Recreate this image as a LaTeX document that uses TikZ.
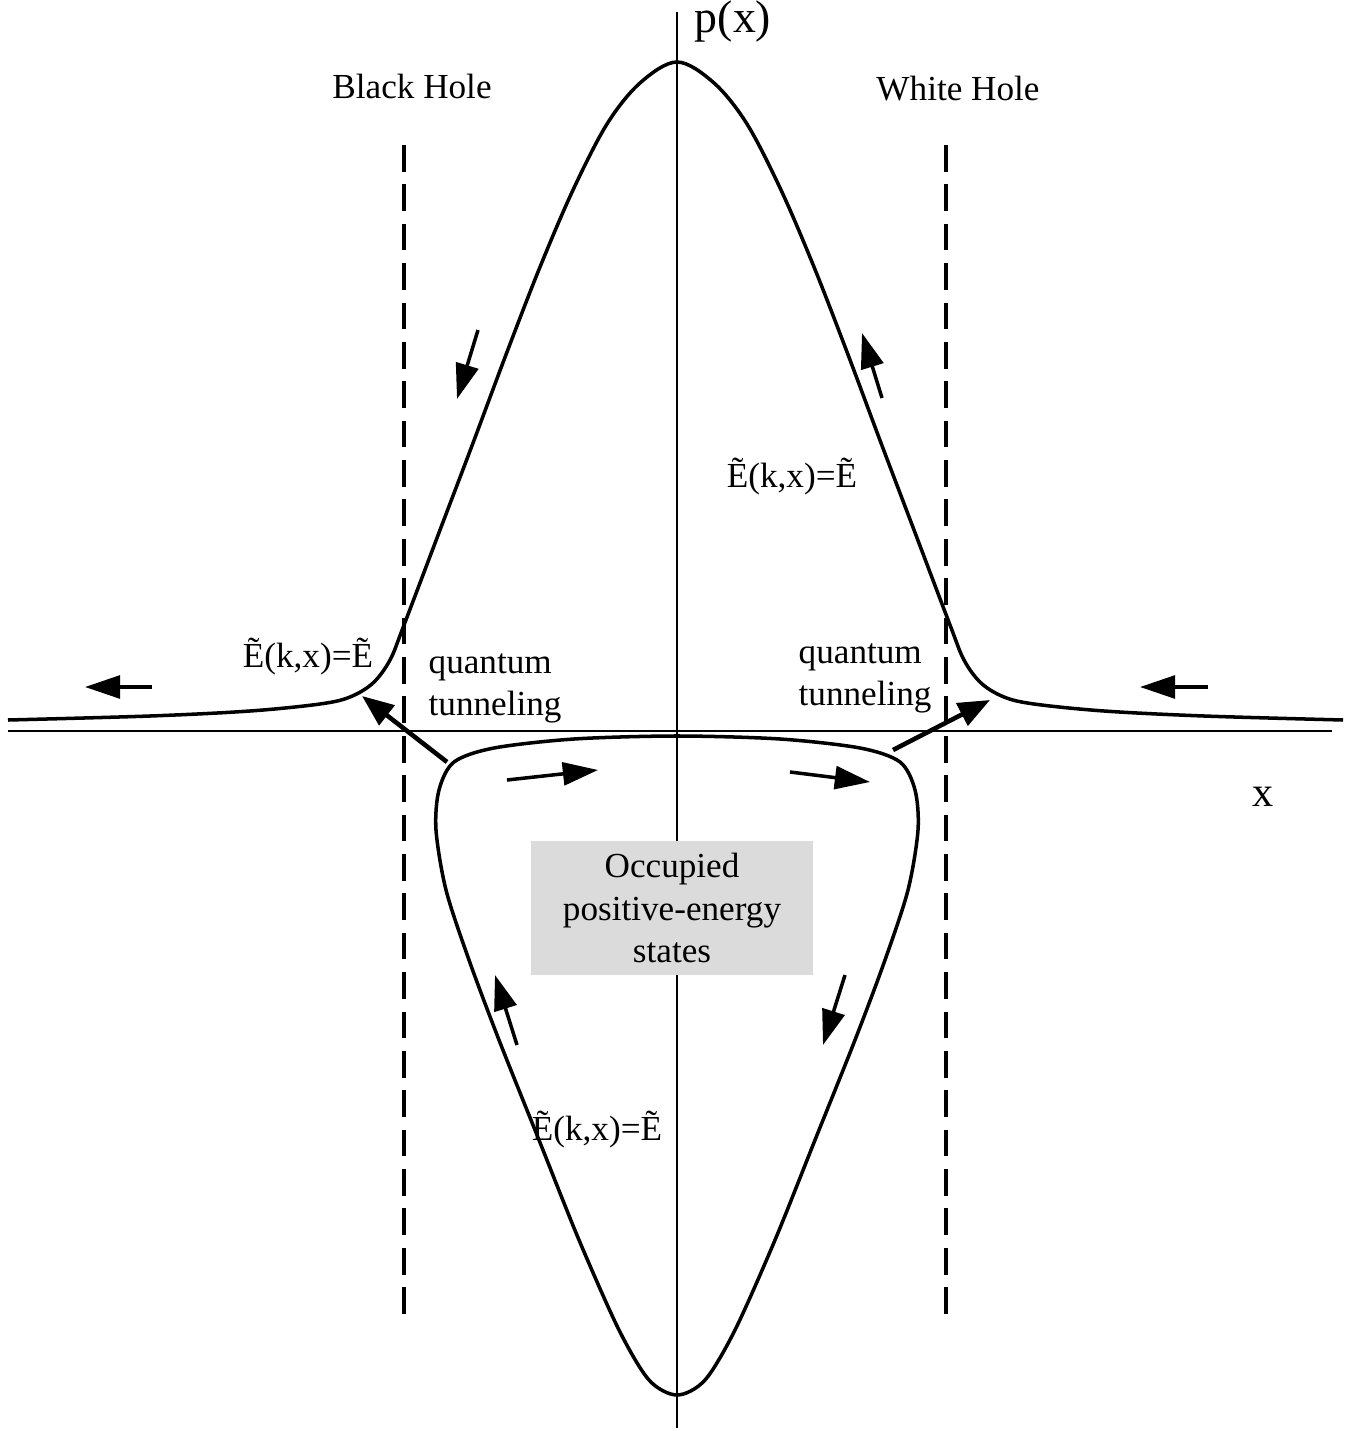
\documentclass[tikz,border=0pt]{standalone}
\usepackage{fontspec}
\setmainfont{Liberation Serif}
\usetikzlibrary{arrows.meta}

\begin{document}
\begin{tikzpicture}[
  x=0.01cm, y=-0.01cm,
  curve/.style   = {line width=1pt, line join=round},
  axis/.style    = {line width=0.45pt},
  horizon/.style = {line width=1.1pt, dash pattern=on 7.6pt off 3.6pt},
  flow/.style    = {-{Triangle[length=10pt,width=6.5pt]}, line width=1pt},
  tunnel/.style  = {-{Triangle[length=9pt,width=7pt]}, line width=1.3pt},
  lbl/.style     = {inner sep=0pt, font=\normalsize},
  occ/.style     = {rectangle, fill=black!14, minimum width=2.81cm, minimum height=1.33cm,
                    align=center, inner sep=0pt, font=\normalsize}
]
\useasboundingbox (0,0) rectangle (1364,1431);

%% ── Axes ─────────────────────────────────────────────────────────────────────
\coordinate (xa0) at (8,731);
\coordinate (xa1) at (1332,731);
\coordinate (pa0) at (677,12);
\coordinate (pa1) at (677,1428);
\draw[axis] (xa0) -- (xa1);
\draw[axis] (pa0) -- (pa1);

%% ── Horizons ─────────────────────────────────────────────────────────────────
\coordinate (bh0) at (404,145);
\coordinate (bh1) at (404,1325);
\coordinate (wh0) at (946,145);
\coordinate (wh1) at (946,1325);
\draw[horizon] (bh0) -- (bh1);
\draw[horizon] (wh0) -- (wh1);

%% ── Upper branch ─────────────────────────────────────────────────────────────
\draw[curve] plot[smooth, tension=0.55] coordinates {
  (8,720) (150,716) (250,711) (320,704) (350,697) (373,683) (390,660) (404,625)
  (440,530) (473,443) (507,352) (540,267) (573,190) (607,124) (640,83) (677,62)
  (714,83) (747,124) (781,190) (814,267) (847,352) (881,443) (914,530) (950,625)
  (964,660) (981,683) (1004,697) (1034,704) (1104,711) (1204,716) (1343,720)};

%% ── Closed loop ──────────────────────────────────────────────────────────────
\draw[curve] plot[smooth cycle, tension=0.5] coordinates {
  (677,736) (780,739) (860,748) (900,762) (915,790) (918,830) (908,890) (885,960)
  (855,1040) (815,1140) (775,1240) (735,1330) (705,1380) (677,1395) (649,1380)
  (619,1330) (579,1240) (539,1140) (499,1040) (469,960) (446,890) (436,830)
  (439,790) (454,762) (494,748) (574,739)};

%% ── Shaded label ─────────────────────────────────────────────────────────────
\node[occ] (occ) at (672,908) {Occupied\\positive-energy\\states};

%% ── Flow arrows ──────────────────────────────────────────────────────────────
\draw[flow] (478,330)  -- (457,399);
\draw[flow] (882,398)  -- (862,333);
\draw[flow] (152,687)  -- (85,687);
\draw[flow] (1208,687) -- (1140,687);
\draw[flow] (507,780)  -- (598,770);
\draw[flow] (790,772)  -- (870,782);
\draw[flow] (517,1045) -- (495,975);
\draw[flow] (845,975)  -- (823,1045);

%% ── Tunneling arrows ─────────────────────────────────────────────────────────
\coordinate (tl0) at (447,762);
\coordinate (tl1) at (362,696);
\coordinate (tr0) at (893,750);
\coordinate (tr1) at (990,700);
\draw[tunnel] (tl0) -- (tl1);
\draw[tunnel] (tr0) -- (tr1);

%% ── Labels ───────────────────────────────────────────────────────────────────
\node[lbl] (bhl) at (412,86) {Black Hole};
\node[lbl] (whl) at (958,89) {White Hole};
\node[lbl, font=\fontsize{13}{15}\selectfont] (pxl) at (733,22) {p(x)};
\node[lbl, font=\large] (xl) at (1263,797) {x};
\node[lbl] (el) at (308,657) {Ẽ(k,x)=Ẽ};
\node[lbl] (er) at (792,477) {Ẽ(k,x)=Ẽ};
\node[lbl] (eb) at (597,1130) {Ẽ(k,x)=Ẽ};
\node[lbl, anchor=west, align=left] (ql) at (428,688) {quantum\\tunneling};
\node[lbl, anchor=west, align=left] (qr) at (798,678) {quantum\\tunneling};

\end{tikzpicture}
\end{document}
